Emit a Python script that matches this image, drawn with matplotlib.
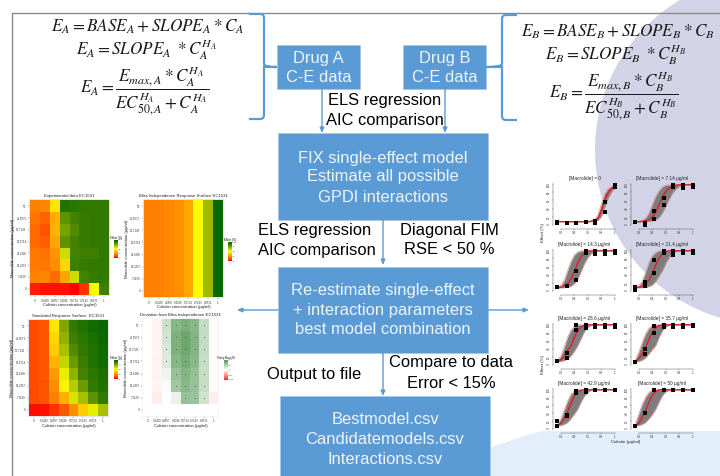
import numpy as np
import matplotlib
matplotlib.use('Agg')
import matplotlib.pyplot as plt
from matplotlib.colors import LinearSegmentedColormap, TwoSlopeNorm, Normalize
from matplotlib.colorbar import ColorbarBase
from matplotlib.patches import Rectangle, Circle, PathPatch
from matplotlib.path import Path

plt.rcParams['font.family'] = ['Liberation Sans', 'DejaVu Sans']
plt.rcParams['mathtext.fontset'] = 'stix'

W, H = 720, 476
BLUE = '#5b9bd5'

# Heatmap data, rows go from macrolide 50 (top) down to 0
macro_labels = ['50', '42.8571', '35.7143', '28.5714', '21.4286', '14.2857', '7.1429', '0']
coli_labels = ['0', '0.1429', '0.2857', '0.4286', '0.5714', '0.7143', '0.8571', '1']

experimental = [
    [20, 22, 45, 92, 90, 88, 88, 88],
    [18, 16, 33, 80, 84, 87, 88, 88],
    [17, 13, 35, 76, 82, 87, 88, 88],
    [17, 15, 31, 80, 84, 87, 88, 88],
    [19, 18, 26, 60, 84, 85, 85, 88],
    [19, 19, 24, 42, 85, 87, 88, 88],
    [21, 22, 17, 31, 60, 84, 87, 88],
    [5, 3, 3, 3, 0, 8, 50, 85],
]
bliss = [
    [20, 20, 22, 25, 32, 50, 70, 98],
    [20, 20, 22, 25, 32, 50, 70, 98],
    [20, 20, 22, 25, 32, 50, 70, 98],
    [20, 20, 22, 25, 32, 50, 70, 98],
    [20, 20, 22, 25, 32, 50, 70, 98],
    [20, 20, 22, 25, 32, 50, 70, 98],
    [20, 20, 22, 25, 32, 50, 70, 98],
    [20, 20, 22, 25, 32, 50, 70, 98],
]
simulated = [
    [12, 14, 45, 75, 88, 92, 96, 98],
    [12, 14, 42, 72, 85, 90, 94, 97],
    [12, 14, 40, 68, 82, 88, 92, 96],
    [12, 14, 35, 62, 78, 86, 92, 96],
    [12, 14, 28, 55, 72, 84, 90, 94],
    [12, 13, 24, 48, 65, 78, 88, 92],
    [12, 13, 20, 34, 58, 68, 80, 88],
    [2, 3, 8, 14, 24, 40, 55, 68],
]
deviation = [
    [0, -5, 30, 70, 78, 70, 35, -1],
    [0, -5, 25, 75, 85, 72, 35, -1],
    [0, -5, 22, 75, 85, 72, 35, -1],
    [0, -6, 20, 70, 80, 68, 33, -1],
    [0, -6, 10, 60, 72, 62, 33, -1],
    [0, -5, 4, 55, 70, 60, 33, -1],
    [0, -8, 0, 12, 60, 58, 28, -8],
    [0, 0, 0, 0, 0, 0, 0, 0],
]

# Dose response panels
panel_titles = ['[Macrolide] = 0', '[Macrolide] = 7.14 µg/ml', '[Macrolide] = 14.3 µg/ml',
                '[Macrolide] = 21.4 µg/ml', '[Macrolide] = 28.6 µg/ml', '[Macrolide] = 35.7 µg/ml',
                '[Macrolide] = 42.9 µg/ml', '[Macrolide] = 50 µg/ml']
curve_x = [0.15, 0.2, 0.25, 0.3, 0.35, 0.4, 0.45, 0.5, 0.55, 0.6, 0.65, 0.7, 0.75, 0.8, 0.85, 0.9, 0.95, 1.0]
obs_x = [0.143, 0.286, 0.429, 0.571, 0.714, 0.857, 1.0]

med_curves = [
    [8, 8, 8, 8, 8, 8, 8, 8, 8, 8, 9, 10, 16, 34, 60, 78, 88, 94],
    [8, 8, 9, 10, 13, 20, 32, 50, 68, 82, 90, 95, 97, 98, 98, 98, 98, 98],
    [8, 9, 12, 18, 30, 48, 68, 84, 93, 97, 98, 98, 98, 98, 98, 98, 98, 98],
    [8, 9, 11, 16, 27, 43, 63, 80, 91, 96, 98, 98, 98, 98, 98, 98, 98, 98],
    [9, 13, 22, 37, 47, 68, 84, 93, 97, 98, 98, 98, 98, 98, 98, 98, 98, 98],
    [10, 16, 28, 44, 63, 80, 91, 96, 98, 98, 98, 98, 98, 98, 98, 98, 98, 98],
    [9, 15, 28, 44, 64, 82, 92, 97, 98, 98, 98, 98, 98, 98, 98, 98, 98, 98],
    [8, 15, 30, 47, 68, 85, 94, 98, 98, 98, 98, 98, 98, 98, 98, 98, 98, 98],
]
lo_curves = [
    [8, 8, 8, 8, 8, 8, 8, 8, 8, 8, 8, 9, 11, 20, 42, 64, 80, 90],
    [8, 8, 8, 8, 9, 10, 13, 19, 30, 46, 63, 78, 88, 94, 97, 98, 98, 98],
    [8, 8, 8, 9, 12, 18, 30, 48, 67, 82, 91, 96, 98, 98, 98, 98, 98, 98],
    [8, 8, 8, 9, 11, 15, 24, 37, 50, 68, 82, 92, 96, 98, 98, 98, 98, 98],
    [8, 9, 11, 15, 23, 34, 48, 65, 82, 92, 97, 98, 98, 98, 98, 98, 98, 98],
    [8, 9, 12, 18, 28, 38, 48, 68, 84, 93, 97, 98, 98, 98, 98, 98, 98, 98],
    [8, 9, 12, 17, 27, 38, 50, 68, 83, 92, 97, 98, 98, 98, 98, 98, 98, 98],
    [8, 9, 12, 17, 26, 37, 50, 68, 84, 93, 97, 98, 98, 98, 98, 98, 98, 98],
]
hi_curves = [
    [8, 8, 8, 8, 8, 8, 8, 8, 8, 8, 10, 12, 24, 50, 75, 88, 94, 97],
    [8, 9, 11, 17, 30, 50, 70, 84, 93, 97, 98, 98, 98, 98, 98, 98, 98, 98],
    [9, 14, 26, 50, 72, 88, 95, 98, 98, 98, 98, 98, 98, 98, 98, 98, 98, 98],
    [9, 13, 24, 46, 70, 86, 94, 98, 98, 98, 98, 98, 98, 98, 98, 98, 98, 98],
    [12, 22, 44, 68, 85, 94, 98, 98, 98, 98, 98, 98, 98, 98, 98, 98, 98, 98],
    [14, 32, 56, 76, 90, 96, 98, 98, 98, 98, 98, 98, 98, 98, 98, 98, 98, 98],
    [12, 26, 48, 70, 87, 95, 98, 98, 98, 98, 98, 98, 98, 98, 98, 98, 98, 98],
    [14, 38, 62, 80, 92, 97, 98, 98, 98, 98, 98, 98, 98, 98, 98, 98, 98, 98],
]
obs_a = [
    [8, 6, 6, 7, 9, 57, 98],
    [8, 4, 33, 65, 98, 97, 97],
    [10, 13, 50, 98, 98, 98, 98],
    [10, 22, 75, 98, 98, 98, 98],
    [10, 30, 98, 98, 98, 98, 98],
    [7, 38, 95, 98, 98, 98, 98],
    [20, 35, 95, 98, 98, 98, 98],
    [8, 40, 98, 98, 98, 98, 98],
]
obs_b = [
    [6, 6, 6, 7, 5, 32, 92],
    [8, 0, 14, 50, 92, 90, 92],
    [10, 13, 27, 93, 90, 91, 92],
    [3, 13, 45, 92, 88, 92, 92],
    [10, 18, 85, 90, 93, 93, 92],
    [7, 28, 77, 92, 93, 93, 95],
    [8, 33, 89, 93, 97, 98, 98],
    [8, 40, 98, 98, 98, 98, 98],
]

effect_cmap = LinearSegmentedColormap.from_list('effect', [
    (0.0, '#ff0000'), (0.2, '#ff7f00'), (0.35, '#ffb400'), (0.5, '#ffff00'),
    (0.7, '#9dbb00'), (0.85, '#3f7f00'), (1.0, '#006400')])
dev_cmap = LinearSegmentedColormap.from_list('dev', ['#ff2a1a', '#ffffff', '#559855'])

fig = plt.figure(figsize=(7.2, 4.76), dpi=100)


def px_axes(x0, x1, y0, y1, **kw):
    return fig.add_axes([x0 / W, 1 - y1 / H, (x1 - x0) / W, (y1 - y0) / H], **kw)


bg = fig.add_axes([0, 0, 1, 1])
bg.set_xlim(0, W)
bg.set_ylim(H, 0)
bg.axis('off')

# background circles
bg.add_patch(Circle((640, 819), 400, fc='#e2effb', ec='none', zorder=1))
bg.add_patch(Rectangle((500, 380), 220, 51, fc='white', ec='none', zorder=1.5))
bg.add_patch(Circle((770, 150), 175, fc='#d3d3e7', ec='none', zorder=2))

# frame lines
bg.plot([12, 12, 720], [476, 13, 13], color='#8a8a8a', lw=1.0, zorder=3)


def box(x0, y0, x1, y1, lines, ys, cx=None):
    bg.add_patch(Rectangle((x0, y0), x1 - x0, y1 - y0, fc=BLUE, ec='#a9c8e8', lw=0.6, zorder=4))
    if cx is None:
        cx = (x0 + x1) / 2
    for s, y in zip(lines, ys):
        bg.text(cx, y, s, color='#eef4fb', fontsize=11.9, ha='center', va='center', zorder=5)


box(277, 45, 360, 89, ['Drug A', 'C-E data'], [58, 77])
box(403, 45, 486, 89, ['Drug B', 'C-E data'], [58, 77])
box(278, 133, 488, 220, ['FIX single-effect model', 'Estimate all possible', 'GPDI interactions'],
    [158, 177, 197], 383)
box(278, 267, 488, 353, ['Re-estimate single-effect', '+ interaction parameters', 'best model combination'],
    [291, 311, 330], 383)
box(280, 396, 490, 476, ['Bestmodel.csv', 'Candidatemodels.csv', 'Interactions.csv'],
    [419, 439, 459], 385)


def arrow(x0, y0, x1, y1):
    bg.annotate('', xy=(x1, y1), xytext=(x0, y0), zorder=4,
                arrowprops=dict(arrowstyle='-|>,head_width=0.13,head_length=0.3', color=BLUE, lw=1.0,
                                shrinkA=0, shrinkB=0))


arrow(322, 89, 322, 133)
arrow(445, 89, 445, 133)
arrow(383, 220, 383, 265)
arrow(383, 353, 383, 396)
arrow(278, 310, 237, 310)
arrow(488, 310, 529, 310)

# labels next to the arrows
for s, x, y, ha in [('ELS regression', 385, 101, 'center'), ('AIC comparison', 385, 120, 'center'),
                    ('ELS regression', 258, 231, 'left'), ('AIC comparison', 258, 250, 'left'),
                    ('Diagonal FIM', 449, 231, 'center'), ('RSE < 50 %', 449, 250, 'center'),
                    ('Output to file', 267, 374, 'left'),
                    ('Compare to data', 451, 363, 'center'), ('Error < 15%', 451, 383, 'center')]:
    bg.text(x, y, s, color='black', fontsize=11.9, ha=ha, va='center', zorder=6)


def brace(x_tip, x_end, x_spine, y_top, y_mid, y_bot):
    r = 4 if x_spine > x_end else -4
    verts = [(x_end, y_top), (x_spine - r, y_top), (x_spine, y_top), (x_spine, y_top + 4),
             (x_spine, y_mid - 3), (x_spine, y_mid), (x_tip, y_mid),
             (x_spine, y_mid), (x_spine, y_mid + 3), (x_spine, y_bot - 4),
             (x_spine, y_bot), (x_spine - r, y_bot), (x_end, y_bot)]
    codes = [Path.MOVETO, Path.LINETO, Path.CURVE3, Path.CURVE3, Path.LINETO, Path.CURVE3, Path.CURVE3,
             Path.LINETO, Path.CURVE3, Path.LINETO, Path.CURVE3, Path.CURVE3, Path.LINETO]
    bg.add_patch(PathPatch(Path(verts, codes), fc='none', ec=BLUE, lw=1.6, zorder=4))


brace(277, 249, 264, 14, 67, 119)
brace(486, 517, 502, 15, 67, 120)

# equations
eq_size = 12.3
for d, xs, ys in [('A', (148, 147, 145), (27, 50, 91)), ('B', (618, 616, 614), (32, 55, 96))]:
    eq1 = r'$E_%s = BASE_%s + SLOPE_%s * C_%s$' % (d, d, d, d)
    eq2 = r'$E_%s = SLOPE_%s\ * C_%s^{H_%s}$' % (d, d, d, d)
    eq3 = r'$E_%s = \dfrac{E_{max,%s} * C_%s^{H_%s}}{EC_{50,%s}^{H_%s} + C_%s^{H_%s}}$' % (d, d, d, d, d, d, d, d)
    for eq, x, y in zip((eq1, eq2, eq3), xs, ys):
        bg.text(x, y, eq, fontsize=eq_size, ha='center', va='center', color='#1a1a1a', zorder=6)


def heat(pos, data, title, cbar_pos, cbar_title, cmap, norm, cbar_ticks, marks=False):
    ax = px_axes(*pos, facecolor='#f4f4f4' if marks else '#e4e4e4')
    ax.pcolormesh(np.array(data)[::-1], cmap=cmap, norm=norm)
    ax.set_xlim(-0.12, 8.12)
    ax.set_ylim(-0.12, 8.12)
    for s in ax.spines.values():
        s.set_visible(False)
    ax.set_xticks(np.arange(8) + 0.5)
    ax.set_xticklabels(coli_labels)
    ax.set_yticks(np.arange(8) + 0.5)
    ax.set_yticklabels(macro_labels[::-1])
    ax.tick_params(labelsize=2.0, length=1, width=0.3, pad=0.8, colors='#333333')
    ax.set_xlabel('Colistin concentration (µg/ml)', fontsize=3.1, labelpad=0.4, color='#222222')
    ax.set_ylabel('Macrolide concentration (µg/ml)', fontsize=3.1, labelpad=0.8, color='#222222')
    ax.set_title(title, fontsize=3.1, pad=1.2, color='#222222')
    if marks:
        rows, cols = np.where(np.array(data)[::-1] >= 20)
        ax.scatter(cols + 0.5, rows + 0.5, s=0.5, c='#555555', linewidths=0)
    cax = px_axes(*cbar_pos)
    cb = ColorbarBase(cax, cmap=cmap, norm=norm, ticks=cbar_ticks)
    cb.outline.set_visible(False)
    cb.ax.tick_params(labelsize=1.6, length=0.5, width=0.2, pad=0.4, colors='#333333')
    cax.set_title(cbar_title, fontsize=2.0, pad=1)


eff_norm = Normalize(0, 100)
eff_ticks = [0, 25, 50, 75, 100]
heat((29, 110, 199, 296), experimental, 'Experimental data EC1531', (114, 118, 240, 258),
     'Effect (%)', effect_cmap, eff_norm, eff_ticks)
heat((143, 224, 199, 298), bliss, 'Bliss Independence Response Surface EC1531', (228, 232, 242, 261),
     'Effect (%)', effect_cmap, eff_norm, eff_ticks)
heat((28, 109, 319, 417), simulated, 'Simulated Response Surface  EC1531', (114, 118, 360, 379),
     'Effect (%)', effect_cmap, eff_norm, eff_ticks)
heat((142, 219, 318, 417), deviation, 'Deviation from Bliss Independence EC1531', (224, 228, 360, 380),
     'Tukey Bonn M', dev_cmap, TwoSlopeNorm(0, -100, 100), [-100, -50, 0, 50, 100], marks=True)

# dose response panels: left edge px, y px of effect 100, y px of effect 0
panel_pos = [(553, 184, 225), (631, 184, 225), (553, 250, 291), (631, 250, 291),
             (553, 324, 365), (631, 324, 365), (553, 389, 429), (631, 389, 429)]

for i, (x0, ytop, ybot) in enumerate(panel_pos):
    tick02 = x0 + 8
    scale = 67.0
    x1 = tick02 + 0.82 * scale
    yscale = (ybot - ytop) / 100.0
    ax = px_axes(x0, x1, ytop - 3, ybot + 4, facecolor='none')
    ax.set_xlim(0.2 - 8 / scale, 1.02)
    ax.set_ylim(-4 / yscale, 100 + 3 / yscale)
    ax.fill_between(curve_x, lo_curves[i], hi_curves[i], color='#7d7d7d', lw=0)
    ax.plot(curve_x, lo_curves[i], color='#e58a85', lw=0.5)
    ax.plot(curve_x, hi_curves[i], color='#e58a85', lw=0.5)
    ax.plot(curve_x, med_curves[i], color='#e41a2c', lw=1.0)
    ax.plot(obs_x, obs_a[i], 's', color='black', ms=2.2, mew=0, clip_on=False)
    ax.plot(obs_x, obs_b[i], 's', color='black', ms=2.2, mew=0, clip_on=False)
    ax.spines['top'].set_visible(False)
    ax.spines['right'].set_visible(False)
    for s in ('left', 'bottom'):
        ax.spines[s].set_linewidth(0.3)
        ax.spines[s].set_color('#444444')
    ax.spines['left'].set_bounds(0, 100)
    ax.spines['bottom'].set_bounds(0.2, 1)
    ax.set_xticks([0.2, 0.4, 0.6, 0.8, 1])
    ax.set_xticklabels(['0.2', '0.4', '0.6', '0.8', '1'])
    ax.set_yticks([0, 20, 40, 60, 80, 100])
    ax.tick_params(labelsize=2.2, length=0.8, width=0.3, pad=0.5, colors='#333333')
    ax.tick_params(axis='y', labelrotation=90)
    ax.text(0.5, 1.0, panel_titles[i], transform=ax.transAxes, fontsize=3.4, ha='center', va='bottom',
            color='#222222')

bg.text(543, 233, 'Effect (%)', fontsize=3.2, rotation=90, ha='center', va='center', color='#222222', zorder=6)
bg.text(543, 365, 'Effect (%)', fontsize=3.2, rotation=90, ha='center', va='center', color='#222222', zorder=6)
bg.text(626, 442, 'Colistin (µg/ml)', fontsize=3.2, ha='center', va='center', color='#222222', zorder=6)

fig.savefig('out.png', dpi=100)
